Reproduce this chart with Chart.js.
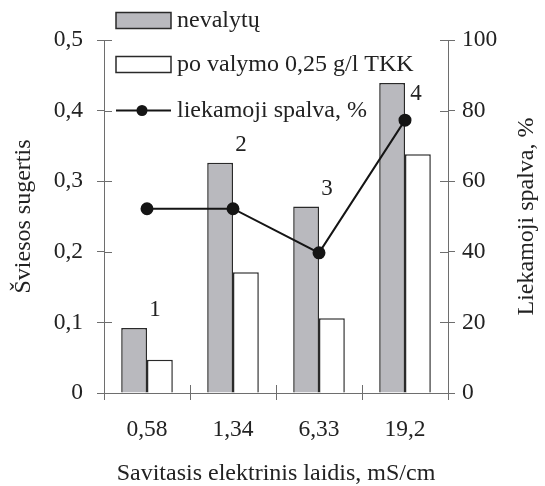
<!DOCTYPE html>
<html>
<head>
<meta charset="utf-8">
<script src="https://cdn.jsdelivr.net/npm/chart.js@4"></script>
<style>
  body { margin: 0; background: #fff; }
  canvas { display: block; }
</style>
</head>
<body>
<canvas id="myChart" width="545" height="486"></canvas>
<script>
// duomenys
const categories = ['0,58', '1,34', '6,33', '19,2'];
const nevalytu = [0.092, 0.326, 0.264, 0.439];
const poValymo = [0.047, 0.171, 0.106, 0.338];
const liekamoji = [52.2, 52.2, 39.7, 77.3];
const barNumbers = ['1', '2', '3', '4'];
const leftTicks = [0, 0.1, 0.2, 0.3, 0.4, 0.5];
const rightTicks = [0, 20, 40, 60, 80, 100];
const rightTitle = 'Liekamoji spalva, %';

const FONT = 'Liberation Serif, Times New Roman, serif';
const TEXT = '#222';
const AXIS = '#6e6e6e';

const fmt = v => (v === 0 ? '0' : v.toFixed(1).replace('.', ','));

// numeriai virš pilkų stulpelių
const barNumberPlugin = {
    id: 'barNumbers',
    afterDatasetsDraw(chart) {
        const { ctx } = chart;
        const meta = chart.getDatasetMeta(1);
        ctx.save();
        ctx.font = '23px ' + FONT;
        ctx.fillStyle = TEXT;
        ctx.textAlign = 'center';
        ctx.textBaseline = 'middle';
        meta.data.forEach((bar, i) => {
            const right = bar.x + bar.width / 2;
            if (i === meta.data.length - 1) {
                ctx.fillText(barNumbers[i], right + 11, bar.y + 11);
            } else {
                ctx.fillText(barNumbers[i], right + 8, bar.y - 18);
            }
        });
        ctx.restore();
    }
};

// vidinės ašių žymės ir dešinės ašies pavadinimas
const innerTicks = {
    id: 'innerTicks',
    afterDraw(chart) {
        const { ctx, scales, chartArea } = chart;
        ctx.save();
        ctx.strokeStyle = AXIS;
        ctx.lineWidth = 1;
        ctx.beginPath();
        leftTicks.forEach(v => {
            const y = Math.round(scales.y.getPixelForValue(v)) + 0.5;
            ctx.moveTo(scales.y.right, y);
            ctx.lineTo(scales.y.right + 8, y);
        });
        rightTicks.forEach(v => {
            const y = Math.round(scales.y1.getPixelForValue(v)) + 0.5;
            ctx.moveTo(scales.y1.left - 8, y);
            ctx.lineTo(scales.y1.left, y);
        });
        for (let i = 0; i <= categories.length; i++) {
            const x = Math.round(scales.x.getPixelForValue(i - 0.5)) + 0.5;
            ctx.moveTo(x, scales.x.top - 8);
            ctx.lineTo(x, scales.x.top);
        }
        ctx.stroke();

        ctx.translate(scales.y1.right - 18, (chartArea.top + chartArea.bottom) / 2);
        ctx.rotate(-Math.PI / 2);
        ctx.font = '24px ' + FONT;
        ctx.fillStyle = TEXT;
        ctx.textAlign = 'center';
        ctx.textBaseline = 'middle';
        ctx.fillText(rightTitle, 0, 0);
        ctx.restore();
    }
};

// legenda
const legendPlugin = {
    id: 'customLegend',
    afterDraw(chart) {
        const { ctx, data } = chart;
        const x0 = 116, w = 55, tx = 177;
        ctx.save();
        ctx.font = '24px ' + FONT;
        ctx.textBaseline = 'middle';
        ctx.textAlign = 'left';

        const rows = [data.datasets[1], data.datasets[2], data.datasets[0]];
        const ys = [20.5, 64.5, 110.5];
        rows.forEach((ds, i) => {
            const y = ys[i];
            if (ds.type === 'line') {
                ctx.strokeStyle = ds.borderColor;
                ctx.lineWidth = 2;
                ctx.beginPath();
                ctx.moveTo(x0, y);
                ctx.lineTo(x0 + w, y);
                ctx.stroke();
                ctx.fillStyle = ds.pointBackgroundColor;
                ctx.beginPath();
                ctx.arc(x0 + 26, y, 5.5, 0, Math.PI * 2);
                ctx.fill();
            } else {
                ctx.fillStyle = ds.backgroundColor;
                ctx.strokeStyle = ds.borderColor;
                ctx.lineWidth = 1.5;
                ctx.fillRect(x0, y - 8, w, 16);
                ctx.strokeRect(x0, y - 8, w, 16);
            }
            ctx.fillStyle = TEXT;
            ctx.fillText(ds.label, tx, y);
        });
        ctx.restore();
    }
};

const data = {
    labels: categories,
    datasets: [
        {
            type: 'line',
            label: 'liekamoji spalva, %',
            data: liekamoji,
            yAxisID: 'y1',
            borderColor: '#151515',
            borderWidth: 2,
            pointRadius: 5.5,
            pointBackgroundColor: '#151515',
            pointBorderColor: '#151515',
            tension: 0,
            order: 0
        },
        {
            type: 'bar',
            label: 'nevalytų',
            data: nevalytu,
            yAxisID: 'y',
            backgroundColor: '#b9b9be',
            borderColor: '#2a2a2a',
            borderWidth: 1.5,
            order: 1
        },
        {
            type: 'bar',
            label: 'po valymo 0,25 g/l TKK',
            data: poValymo,
            yAxisID: 'y',
            backgroundColor: '#ffffff',
            borderColor: '#2a2a2a',
            borderWidth: 1.5,
            order: 1
        }
    ]
};

const tickFont = { family: FONT, size: 23.5 };

const config = {
    type: 'bar',
    data,
    options: {
        responsive: false,
        animation: false,
        layout: { padding: { top: 40, left: 0, right: 0, bottom: 0 } },
        datasets: {
            bar: { categoryPercentage: 0.6, barPercentage: 1.0 }
        },
        plugins: {
            legend: { display: false },
            tooltip: { enabled: false }
        },
        scales: {
            x: {
                offset: true,
                grid: { offset: true, drawOnChartArea: false, tickLength: 7, color: AXIS },
                border: { color: AXIS, width: 1 },
                ticks: { font: tickFont, color: TEXT, padding: 16 },
                title: {
                    display: true,
                    text: 'Savitasis elektrinis laidis, mS/cm',
                    font: { family: FONT, size: 24, lineHeight: 1 },
                    color: TEXT,
                    padding: 0
                },
                afterFit(scale) { scale.height = 93; }
            },
            y: {
                position: 'left',
                min: 0,
                max: 0.5,
                afterBuildTicks(scale) { scale.ticks = leftTicks.map(v => ({ value: v })); },
                grid: { drawOnChartArea: false, tickLength: 7, color: AXIS },
                border: { color: AXIS, width: 1 },
                ticks: {
                    font: tickFont,
                    color: TEXT,
                    padding: 14,
                    callback: v => fmt(v)
                },
                title: {
                    display: true,
                    text: 'Šviesos sugertis',
                    font: { family: FONT, size: 24, lineHeight: 1 },
                    color: TEXT,
                    padding: { top: 12, bottom: 0 }
                },
                afterFit(scale) { scale.width = 104; }
            },
            y1: {
                position: 'right',
                min: 0,
                max: 100,
                afterBuildTicks(scale) { scale.ticks = rightTicks.map(v => ({ value: v })); },
                grid: { drawOnChartArea: false, tickLength: 7, color: AXIS },
                border: { color: AXIS, width: 1 },
                ticks: { font: tickFont, color: TEXT, padding: 7 },
                afterFit(scale) { scale.width = 97; }
            }
        }
    },
    plugins: [barNumberPlugin, innerTicks, legendPlugin]
};

const myChart = new Chart(document.getElementById('myChart'), config);
</script>
</body>
</html>
